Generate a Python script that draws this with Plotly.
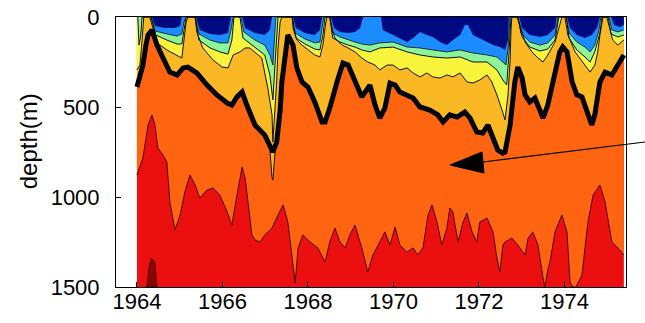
import plotly.graph_objects as go

# ---------------- data (years, depth in m) ----------------
TIME_START, TIME_END = 1964.0, 1975.39
DEPTH_MAX = 1500

X_TICKS = [1964, 1966, 1968, 1970, 1972, 1974]
Y_TICKS = [0, 500, 1000, 1500]

# thick black contour (bottom of the yellow-orange layer)
THICK_T = [1964.00, 1964.07, 1964.14, 1964.21, 1964.26, 1964.35, 1964.47, 1964.61, 1964.77, 1964.94,
           1965.08, 1965.19, 1965.40, 1965.64, 1965.87, 1966.11, 1966.22, 1966.34, 1966.46, 1966.57,
           1966.69, 1966.76, 1966.99, 1967.11, 1967.18, 1967.27, 1967.35, 1967.39, 1967.46, 1967.53,
           1967.65, 1967.74, 1967.86, 1968.00, 1968.16, 1968.33, 1968.40, 1968.51, 1968.68, 1968.82,
           1968.94, 1969.10, 1969.26, 1969.45, 1969.57, 1969.68, 1969.80, 1969.92, 1970.04, 1970.15,
           1970.32, 1970.46, 1970.62, 1970.85, 1971.04, 1971.16, 1971.32, 1971.49, 1971.67, 1971.79,
           1971.95, 1972.09, 1972.21, 1972.33, 1972.44, 1972.56, 1972.61, 1972.73, 1972.84, 1972.91,
           1973.01, 1973.08, 1973.19, 1973.31, 1973.43, 1973.50, 1973.61, 1973.78, 1973.89, 1973.96,
           1974.06, 1974.18, 1974.29, 1974.41, 1974.53, 1974.64, 1974.71, 1974.83, 1974.95, 1975.11,
           1975.25, 1975.39]
THICK_D = [389, 339, 267, 156, 100, 72, 156, 228, 306, 322,
           283, 278, 311, 378, 433, 478, 489, 444, 417, 489,
           561, 600, 656, 711, 750, 694, 517, 361, 211, 100,
           156, 283, 361, 389, 472, 583, 583, 506, 361, 256,
           267, 361, 444, 378, 489, 561, 506, 367, 378, 417,
           433, 450, 500, 517, 544, 583, 544, 556, 528, 561,
           639, 644, 600, 672, 739, 756, 750, 600, 361, 278,
           339, 433, 472, 450, 528, 561, 489, 322, 194, 167,
           194, 361, 433, 444, 528, 600, 544, 361, 306, 322,
           267, 211]

# narrow yellow-orange tongue below the thick contour (early 1967)
TONGUE_T = [1967.11, 1967.13, 1967.16, 1967.18, 1967.20, 1967.23]
TONGUE_D = [739, 822, 894, 906, 850, 750]

# orange / red boundary
RO_T = [1964.00, 1964.14, 1964.26, 1964.35, 1964.42, 1964.49, 1964.61, 1964.70, 1964.77, 1964.89,
        1965.01, 1965.12, 1965.24, 1965.36, 1965.47, 1965.64, 1965.78, 1965.94, 1966.11, 1966.22,
        1966.34, 1966.46, 1966.53, 1966.60, 1966.69, 1966.76, 1966.88, 1966.99, 1967.16, 1967.30,
        1967.42, 1967.53, 1967.63, 1967.70, 1967.77, 1967.88, 1968.05, 1968.23, 1968.40, 1968.51,
        1968.63, 1968.75, 1968.87, 1968.98, 1969.10, 1969.26, 1969.40, 1969.52, 1969.68, 1969.80,
        1969.92, 1970.04, 1970.15, 1970.32, 1970.46, 1970.57, 1970.69, 1970.81, 1970.90, 1971.02,
        1971.13, 1971.25, 1971.32, 1971.39, 1971.51, 1971.63, 1971.72, 1971.84, 1971.95, 1972.02,
        1972.19, 1972.33, 1972.42, 1972.49, 1972.56, 1972.61, 1972.77, 1972.91, 1973.08, 1973.15,
        1973.26, 1973.38, 1973.50, 1973.54, 1973.61, 1973.66, 1973.78, 1973.94, 1974.06, 1974.13,
        1974.20, 1974.27, 1974.41, 1974.55, 1974.67, 1974.83, 1974.95, 1975.11, 1975.25, 1975.39]
RO_D = [878, 783, 600, 544, 600, 728, 767, 806, 1028, 1183,
        1100, 972, 878, 933, 1006, 961, 950, 989, 1083, 1156,
        989, 833, 894, 1044, 1211, 1239, 1250, 1211, 1172, 1100,
        1044, 1139, 1361, 1478, 1283, 1211, 1250, 1283, 1361, 1250,
        1172, 1250, 1283, 1211, 1156, 1283, 1417, 1322, 1250, 1194,
        1267, 1167, 1267, 1306, 1283, 1322, 1283, 1100, 1044, 1139,
        1267, 1172, 1061, 1083, 1250, 1139, 1089, 1194, 1250, 1139,
        1117, 1194, 1339, 1417, 1267, 1250, 1228, 1267, 1322, 1228,
        1194, 1267, 1450, 1500, 1406, 1361, 1194, 1100, 1194, 1472,
        1500, 1500, 1433, 1139, 989, 933, 1028, 1250, 1283, 1322]

# deepest (dark red) patch
DR_T = [1964.23, 1964.28, 1964.33, 1964.42, 1964.47]
DR_D = [1500, 1394, 1339, 1361, 1500]

# bottom of the yellow layer
YE_T = [1964.00, 1964.07, 1964.12, 1964.16, 1964.30, 1964.47, 1964.70, 1964.94, 1965.05, 1965.10,
        1965.15, 1965.19, 1965.36, 1965.40, 1965.54, 1965.78, 1965.99, 1966.13, 1966.25, 1966.41,
        1966.53, 1966.64, 1966.76, 1966.92, 1967.06, 1967.16, 1967.18, 1967.23, 1967.27, 1967.30,
        1967.35, 1967.39, 1967.63, 1967.65, 1967.74, 1967.86, 1968.00, 1968.16, 1968.28, 1968.35,
        1968.40, 1968.44, 1968.51, 1968.56, 1968.63, 1968.80, 1968.94, 1969.10, 1969.26, 1969.40,
        1969.57, 1969.68, 1969.85, 1969.99, 1970.15, 1970.32, 1970.46, 1970.62, 1970.78, 1970.92,
        1971.09, 1971.25, 1971.39, 1971.56, 1971.72, 1971.86, 1972.02, 1972.19, 1972.30, 1972.42,
        1972.54, 1972.61, 1972.68, 1972.73, 1972.75, 1972.77, 1972.89, 1972.96, 1973.08, 1973.24,
        1973.38, 1973.50, 1973.61, 1973.78, 1973.89, 1973.94, 1974.01, 1974.08, 1974.25, 1974.48,
        1974.60, 1974.71, 1974.78, 1974.83, 1974.88, 1974.90, 1974.99, 1975.06, 1975.13, 1975.25,
        1975.39]
YE_D = [294, 267, 128, 0, 0, 144, 183, 217, 228, 128,
        28, 0, 0, 83, 172, 239, 278, 283, 211, 194,
        172, 172, 194, 228, 394, 544, 694, 517, 350, 172,
        28, 0, 0, 61, 128, 156, 183, 211, 222, 156,
        61, 0, 0, 61, 117, 156, 172, 194, 228, 250,
        267, 294, 267, 267, 294, 283, 311, 333, 311, 333,
        339, 322, 333, 311, 361, 367, 350, 322, 361, 433,
        517, 572, 433, 239, 72, 0, 0, 44, 139, 194,
        228, 250, 211, 139, 44, 0, 0, 100, 194, 267,
        306, 267, 194, 100, 28, 0, 0, 72, 128, 156,
        128]

# bottom of the green layer
GR_T = [1964.02, 1964.05, 1964.09, 1964.12, 1964.33, 1964.44, 1964.70, 1964.94, 1965.05, 1965.10,
        1965.15, 1965.36, 1965.45, 1965.71, 1965.94, 1966.13, 1966.22, 1966.27, 1966.41, 1966.48,
        1966.76, 1966.99, 1967.11, 1967.18, 1967.25, 1967.30, 1967.63, 1967.72, 1967.93, 1968.16,
        1968.28, 1968.35, 1968.40, 1968.51, 1968.58, 1968.75, 1968.94, 1969.10, 1969.26, 1969.45,
        1969.68, 1969.99, 1970.32, 1970.62, 1970.92, 1971.25, 1971.56, 1971.86, 1972.19, 1972.42,
        1972.56, 1972.65, 1972.70, 1972.75, 1972.91, 1973.01, 1973.19, 1973.43, 1973.61, 1973.78,
        1973.87, 1974.04, 1974.11, 1974.29, 1974.48, 1974.60, 1974.71, 1974.83, 1974.88, 1975.02,
        1975.09, 1975.25, 1975.39]
GR_D = [0, 156, 100, 0, 0, 100, 128, 150, 150, 72,
        0, 0, 128, 172, 194, 206, 128, 0, 0, 117,
        167, 211, 322, 461, 183, 0, 0, 117, 150, 178,
        183, 100, 0, 0, 117, 139, 156, 167, 183, 194,
        172, 167, 194, 211, 222, 228, 222, 250, 250, 294,
        350, 378, 211, 0, 0, 111, 167, 189, 178, 128,
        0, 0, 117, 183, 222, 250, 194, 89, 0, 0,
        94, 111, 100]

# bottom of the light-blue layer
LB_T = [1964.33, 1964.42, 1964.70, 1964.94, 1965.05, 1965.10, 1965.15, 1965.36, 1965.45, 1965.71,
        1965.94, 1966.13, 1966.20, 1966.25, 1966.43, 1966.50, 1966.76, 1966.99, 1967.11, 1967.18,
        1967.23, 1967.25, 1967.63, 1967.70, 1967.93, 1968.16, 1968.28, 1968.35, 1968.37, 1968.51,
        1968.58, 1968.75, 1968.94, 1969.10, 1969.26, 1969.45, 1969.68, 1969.99, 1970.32, 1970.62,
        1970.92, 1971.25, 1971.56, 1971.86, 1972.19, 1972.42, 1972.56, 1972.63, 1972.68, 1972.73,
        1972.91, 1972.98, 1973.19, 1973.43, 1973.61, 1973.78, 1973.85, 1974.04, 1974.11, 1974.29,
        1974.48, 1974.60, 1974.71, 1974.81, 1974.85, 1975.04, 1975.11, 1975.25, 1975.39]
LB_D = [0, 78, 94, 106, 94, 28, 0, 0, 94, 128,
        144, 144, 72, 0, 0, 83, 128, 156, 211, 267,
        72, 0, 0, 89, 122, 144, 139, 44, 0, 0,
        89, 111, 128, 139, 150, 156, 144, 139, 167, 172,
        183, 194, 183, 200, 211, 222, 250, 267, 183, 0,
        0, 89, 139, 156, 144, 100, 0, 0, 89, 139,
        167, 194, 156, 72, 0, 0, 72, 83, 72]

# bottom of the dark-blue layer
DB_T = [1964.35, 1964.42, 1964.65, 1964.89, 1965.01, 1965.05, 1965.38, 1965.47, 1965.71, 1965.94,
        1966.13, 1966.20, 1966.46, 1966.53, 1966.76, 1966.99, 1967.11, 1967.16, 1967.65, 1967.72,
        1967.93, 1968.16, 1968.28, 1968.33, 1968.54, 1968.61, 1968.75, 1968.94, 1969.10, 1969.22,
        1969.29, 1969.71, 1969.75, 1969.99, 1970.15, 1970.32, 1970.46, 1970.62, 1970.78, 1970.92,
        1971.09, 1971.25, 1971.39, 1971.56, 1971.67, 1971.74, 1971.86, 1972.02, 1972.19, 1972.33,
        1972.49, 1972.61, 1972.68, 1972.70, 1972.94, 1973.01, 1973.19, 1973.43, 1973.61, 1973.78,
        1973.82, 1974.06, 1974.13, 1974.29, 1974.48, 1974.64, 1974.76, 1974.83, 1975.09, 1975.16,
        1975.30, 1975.39]
DB_D = [0, 50, 61, 61, 50, 0, 0, 72, 94, 100,
        89, 0, 0, 61, 89, 100, 72, 0, 0, 61,
        89, 100, 72, 0, 0, 61, 83, 89, 83, 61,
        0, 0, 72, 100, 117, 139, 117, 83, 100, 111,
        139, 156, 128, 100, 44, 44, 100, 117, 139, 156,
        167, 183, 128, 0, 0, 61, 100, 111, 100, 61,
        0, 0, 61, 100, 117, 100, 61, 0, 0, 44,
        56, 44]

# ---------------- colours ----------------
C_DARKRED = "#8c0000"
C_RED = "#ec0f0f"
C_ORANGE = "#ff6410"
C_YORANGE = "#fab824"
C_YELLOW = "#f8f43c"
C_GREEN = "#8cf59a"
C_LBLUE = "#1a8cff"
C_NAVY = "#000a80"

FONT = "Arial, Liberation Sans, Helvetica, sans-serif"

fig = go.Figure()


def layer_from_top(t, d, color):
    """Filled region from the surface (depth 0) down to the boundary t,d."""
    xs = list(t) + [t[-1], t[0], t[0]]
    ys = list(d) + [0, 0, d[0]]
    fig.add_trace(go.Scatter(x=xs, y=ys, mode="lines", fill="toself", fillcolor=color,
                             line=dict(width=0), hoverinfo="skip", showlegend=False))


def polygon(t, d, color, lw=0, lc="black"):
    fig.add_trace(go.Scatter(x=list(t) + [t[0]], y=list(d) + [d[0]], mode="lines", fill="toself",
                             fillcolor=color, line=dict(width=lw, color=lc),
                             hoverinfo="skip", showlegend=False))


def boundary(t, d, width=1, color="#111111"):
    fig.add_trace(go.Scatter(x=t, y=d, mode="lines", line=dict(width=width, color=color),
                             hoverinfo="skip", showlegend=False))


# full red background of the data region
layer_from_top([TIME_START, TIME_END], [DEPTH_MAX, DEPTH_MAX], C_RED)
polygon(DR_T, DR_D, C_DARKRED, lw=0.8, lc="#3a0000")
layer_from_top(RO_T, RO_D, C_ORANGE)
layer_from_top(THICK_T, THICK_D, C_YORANGE)
polygon(TONGUE_T, TONGUE_D, C_YORANGE, lw=1, lc="#111111")
layer_from_top(YE_T, YE_D, C_YELLOW)
layer_from_top(GR_T, GR_D, C_GREEN)
layer_from_top(LB_T, LB_D, C_LBLUE)
layer_from_top(DB_T, DB_D, C_NAVY)

boundary(RO_T, RO_D, 1, "#4a0800")
boundary(YE_T, YE_D, 1)
boundary(GR_T, GR_D, 1)
boundary(LB_T, LB_D, 0.8)
boundary(THICK_T, THICK_D, 5, "#000000")

# arrow (paper coordinates)
fig.add_shape(type="line", xref="paper", yref="paper", x0=1.0373, y0=0.537, x1=0.7196, y1=0.463,
              line=dict(color="black", width=1.2))
fig.add_shape(type="path", xref="paper", yref="paper",
              path="M 0.6549,0.4519 L 0.7176,0.5 L 0.7216,0.4222 Z",
              fillcolor="black", line=dict(color="black", width=1))

fig.add_annotation(text="depth(m)", xref="paper", yref="paper", x=-0.1725, y=0.54,
                   textangle=-90, showarrow=False, font=dict(family=FONT, size=24, color="black"),
                   xanchor="center", yanchor="middle")

fig.update_xaxes(range=[1963.51, 1975.44], tickvals=X_TICKS, ticktext=[str(v) for v in X_TICKS],
                 showline=True, linecolor="black", linewidth=1, mirror=True, automargin=False,
                 ticks="inside", ticklen=5, tickcolor="black", showgrid=False, zeroline=False,
                 tickfont=dict(family=FONT, size=22, color="black"), ticklabelstandoff=-5,
                 ticklabeloverflow="allow")
fig.update_yaxes(range=[DEPTH_MAX, 0], tickvals=Y_TICKS, ticktext=[str(v) for v in Y_TICKS],
                 showline=True, linecolor="black", linewidth=1, mirror=True, automargin=False,
                 ticks="inside", ticklen=5, tickcolor="black", showgrid=False, zeroline=False,
                 tickfont=dict(family=FONT, size=22, color="black"), ticklabelstandoff=11,
                 ticklabeloverflow="allow")

fig.update_layout(width=645, height=323, margin=dict(l=116, r=19, t=17, b=36, autoexpand=False),
                  plot_bgcolor="white", paper_bgcolor="white", showlegend=False,
                  hovermode=False)

# remove the browser's default 8px page margin so the figure sits at the window origin
fig.write_html("out.html", config={"displayModeBar": False, "staticPlot": True},
               post_script="document.body.style.margin='0';")
